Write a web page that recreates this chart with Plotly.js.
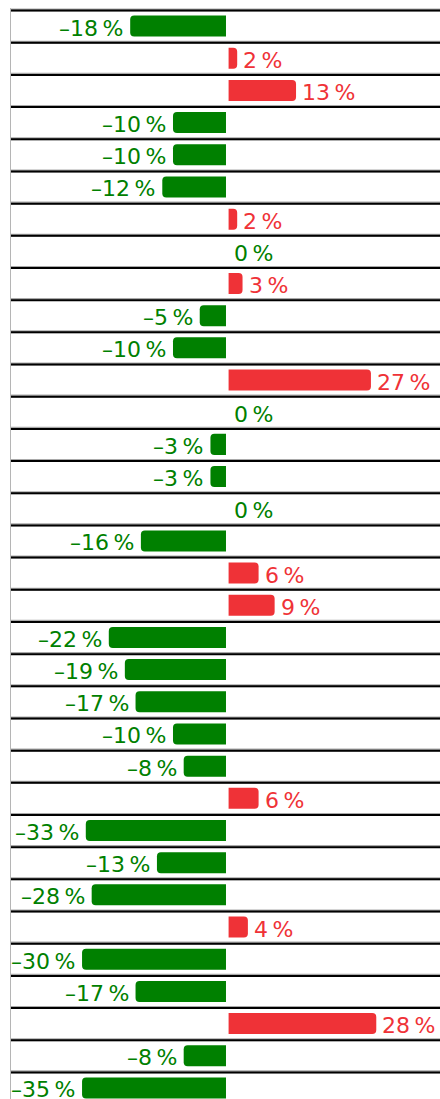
<!DOCTYPE html>
<html>
<head>
<meta charset="utf-8">
<script src="https://cdn.plot.ly/plotly-3.0.1.min.js"></script>
<style>
  html, body { margin: 0; padding: 0; background: #ffffff; overflow: hidden; }
  #chart { width: 440px; height: 1104px; }
</style>
</head>
<body>
<div id="chart"></div>
<script>
// Displayed values (percent change per row, top to bottom)
const values = [-18, 2, 13, -10, -10, -12, 2, 0, 3, -5, -10, 27, 0, -3, -3, 0, -16, 6, 9, -22, -19, -17, -10, -8, 6, -33, -13, -28, 4, -30, -17, 28, -8, -35];
// Bar extents as drawn in the reference (the longest negative bars are shortened so their labels stay inside the frame)
const barValues = [-18, 2, 13, -10, -10, -12, 2, 0, 3, -5, -10, 27, 0, -3, -3, 0, -16, 6, 9, -22, -19, -17, -10, -8, 6, -26.3, -13, -25.2, 4, -27, -17, 28, -8, -27];

const GREEN = '#008000';
const RED = '#ef3237';
const FONT = 'DejaVu Sans';

const rows = values.map((_, i) => i);
const colors = values.map(v => v > 0 ? RED : GREEN);
const labelText = values.map(v => (v < 0 ? '\u2013' + Math.abs(v) : String(v)) + '\u202F%');

const trace = {
  type: 'bar',
  orientation: 'h',
  x: barValues,
  y: rows,
  marker: { color: colors, cornerradius: 4, line: { width: 0 } },
  hoverinfo: 'skip'
};

const annotations = values.map((v, i) => ({
  x: barValues[i],
  y: i,
  xref: 'x',
  yref: 'y',
  text: labelText[i],
  showarrow: false,
  xanchor: v < 0 ? 'right' : 'left',
  yanchor: 'middle',
  xshift: v < 0 ? -5 : (v === 0 ? 6 : 4),
  yshift: -2,
  font: { family: FONT, size: 22, color: v > 0 ? RED : GREEN }
}));

const shapes = [];
// small white gap at the zero line between bars
shapes.push({
  type: 'rect', layer: 'above',
  xref: 'x', xsizemode: 'pixel', xanchor: 0, x0: -0.5, x1: 2.1,
  yref: 'paper', y0: 0, y1: 1,
  fillcolor: '#ffffff', line: { width: 0 }
});
for (let b = 0; b <= values.length; b++) {
  shapes.push({
    type: 'line', layer: 'above',
    xref: 'paper', x0: 0, x1: 1,
    yref: 'y', y0: b - 0.5, y1: b - 0.5,
    line: { color: '#a9a9a9', width: 3 }
  });
  shapes.push({
    type: 'line', layer: 'above',
    xref: 'paper', x0: 0, x1: 1,
    yref: 'y', ysizemode: 'pixel', yanchor: b - 0.5, y0: -0.6, y1: -0.6,
    line: { color: '#000000', width: 2 }
  });
}

const layout = {
  width: 440,
  height: 1104,
  margin: { l: 11, r: 0, t: 8, b: 0, pad: 0 },
  paper_bgcolor: '#ffffff',
  plot_bgcolor: '#ffffff',
  showlegend: false,
  bargap: 0.347,
  xaxis: {
    range: [-40.28, 39.91],
    visible: false,
    fixedrange: true
  },
  yaxis: {
    range: [values.length - 0.5, -0.562],
    showticklabels: false,
    ticks: '',
    showgrid: false,
    zeroline: false,
    showline: true,
    linecolor: '#b5b5b5',
    linewidth: 1.5,
    fixedrange: true
  },
  shapes: shapes,
  annotations: annotations
};

Plotly.newPlot('chart', [trace], layout, { displayModeBar: false, staticPlot: true });
</script>
</body>
</html>
